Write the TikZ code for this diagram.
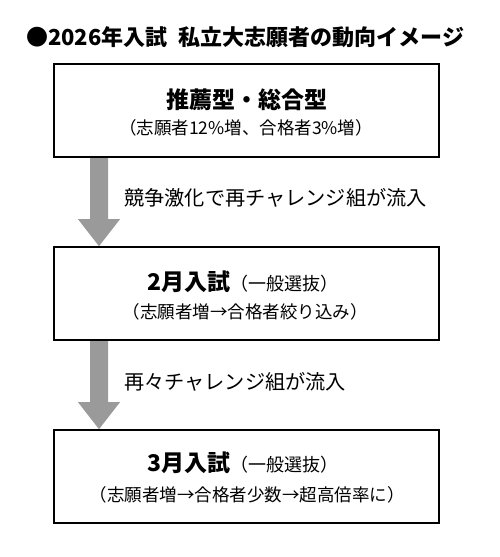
\documentclass[tikz,border=0pt]{standalone}
\usepackage{fontspec}
\setmainfont{Noto Sans CJK JP}
\usetikzlibrary{calc}
\definecolor{arrowgray}{HTML}{9A9A9A}
\tikzset{
  flowbox/.style={draw=black, line width=1.6pt, minimum width=385pt, minimum height=93pt, inner sep=0pt},
  headtxt/.style={font=\fontsize{23}{25}\selectfont\bfseries, inner sep=0pt, anchor=center},
  subtxt/.style={font=\fontsize{17.5}{19}\selectfont, inner sep=0pt, anchor=center},
  lbltxt/.style={font=\fontsize{20.2}{22}\selectfont, inner sep=0pt, anchor=west},
  titletxt/.style={font=\fontsize{22}{24}\selectfont\bfseries, inner sep=0pt, anchor=west},
  flowarrow/.style={fill=arrowgray}
}
\begin{document}
\begin{tikzpicture}[x=1pt,y=-1pt]
\useasboundingbox (0,0) rectangle (500,557);
\node[titletxt] (title) at (26,37) {●2026年入試\hspace{0.5em}私立大志願者の動向イメージ};
\coordinate (ax) at (99,0);
\node[flowbox] (box1) at (246.5,110.5) {};
\node[flowbox] (box2) at (246.5,293.5) {};
\node[flowbox] (box3) at (246.5,476.5) {};
% arrows
\fill[flowarrow] ($(box1.south -| ax)+(-9,0)$) -- ($(box2.north -| ax)+(-9,-27)$) -- ($(box2.north -| ax)+(-21,-27)$) -- (box2.north -| ax) -- ($(box2.north -| ax)+(21,-27)$) -- ($(box2.north -| ax)+(9,-27)$) -- ($(box1.south -| ax)+(9,0)$) -- cycle;
\fill[flowarrow] ($(box2.south -| ax)+(-9,0)$) -- ($(box3.north -| ax)+(-9,-27)$) -- ($(box3.north -| ax)+(-21,-27)$) -- (box3.north -| ax) -- ($(box3.north -| ax)+(21,-27)$) -- ($(box3.north -| ax)+(9,-27)$) -- ($(box2.south -| ax)+(9,0)$) -- cycle;
\node[flowbox] at (box1) {};
\node[flowbox] at (box2) {};
\node[flowbox] at (box3) {};
% texts
\node[headtxt] (h1) at (247,100) {推薦型・総合型};
\node[subtxt] (s1) at (246,128) {（志願者12\%増、合格者3\%増）};
\node[lbltxt] (l1) at (124,198) {競争激化で再チャレンジ組が流入};
\node[headtxt] (h2) at (243,282) {2月入試{\mdseries\fontsize{18}{19}\selectfont （一般選抜）}};
\node[subtxt] (s2) at (245,312) {（志願者増→合格者絞り込み）};
\node[lbltxt] (l2) at (124,382) {再々チャレンジ組が流入};
\node[headtxt] (h3) at (243,463) {3月入試{\mdseries\fontsize{18}{19}\selectfont （一般選抜）}};
\node[subtxt] (s3) at (247,495) {（志願者増→合格者少数→超高倍率に）};
\end{tikzpicture}
\end{document}
